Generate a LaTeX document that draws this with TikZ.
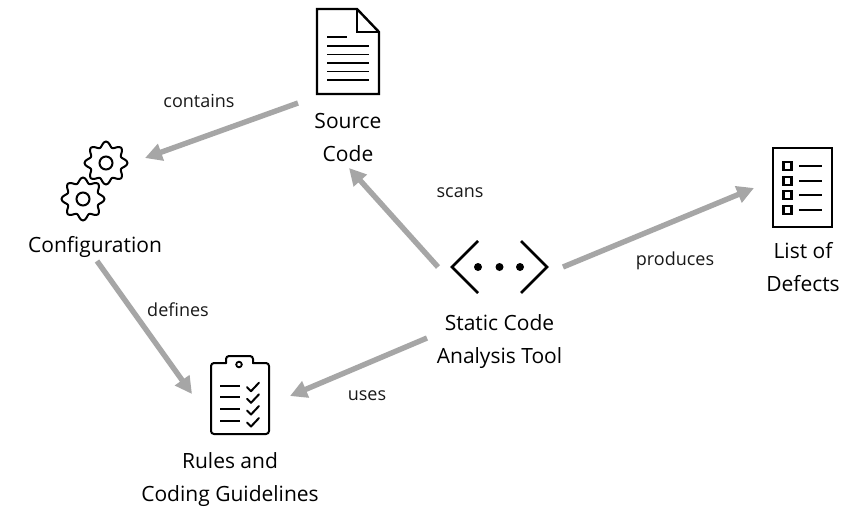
\documentclass[tikz,border=0pt]{standalone}
\usepackage{fontspec}
\setmainfont{Open Sans}
\usetikzlibrary{arrows.meta}
\tikzset{
  flow/.style={draw=arrowgray,line width=5.4pt,-{Triangle[length=17pt,width=17pt]},shorten >=0pt},
  title/.style={font=\fontsize{21}{33}\selectfont,align=center,inner sep=0pt,text=black},
  verb/.style={font=\fontsize{18}{20}\selectfont,inner sep=0pt,text=black!90},
  icon/.style={draw=black,line width=2.4pt,line join=miter},
  thin icon/.style={draw=black,line width=2pt,line cap=round,line join=round},
}
\definecolor{arrowgray}{HTML}{A6A6A6}
\begin{document}
\begin{tikzpicture}[x=1pt,y=-1pt]
\useasboundingbox (0,0) rectangle (866,522);
\fill[white] (0,0) rectangle (866,522);
% document icon
\draw[icon] (317,9) -- (357,9) -- (379,32) -- (379,94) -- (317,94) -- cycle;
\draw[icon] (357,9) -- (357,32) -- (379,32);
\draw[black,line width=1.8pt] (327,37) -- (347,37);
\foreach \ly in {46,54.5,63,71.5,80}
  \draw[black,line width=1.8pt] (327,\ly) -- (369,\ly);
% gears
\foreach \gx/\gy in {106/163,83/199}{
  \draw[thin icon] plot[smooth cycle,domain=0:355,samples=72]
    ({\gx+(18.8+2.7*cos(8*\x))*cos(\x)},{\gy+(18.8+2.7*cos(8*\x))*sin(\x)});
  \draw[black,line width=2pt] (\gx,\gy) circle (6.5);
}
% clipboard
\draw[thin icon,rounded corners=3pt] (226,363) -- (211,363) -- (211,434) -- (269,434) -- (269,363) -- (253,363);
\draw[thin icon,rounded corners=3pt] (226,363) -- (226,356) -- (253,356) -- (253,363);
\draw[black,line width=1.8pt] (239,364.5) circle (2.8);
\foreach \ly in {385.7,397.3,409,421}{
  \draw[black,line width=1.8pt] (220,\ly) -- (240,\ly);
  \draw[thin icon] (247,\ly+1.5) -- (251,\ly+5.5) -- (259,\ly-3);
}
% list icon
\draw[icon] (773,148) rectangle (832,227);
\foreach \ly in {166,181,195,210}{
  \draw[black,line width=2.2pt] (783.5,\ly-4) rectangle (791.5,\ly+4);
  \draw[black,line width=1.6pt] (799,\ly) -- (822,\ly);
}
% code icon
\draw[black,line width=2.6pt] (478,241) -- (452,267) -- (478,293);
\draw[black,line width=2.6pt] (521,241) -- (547,267) -- (521,293);
\foreach \dx in {478,499.5,520} \fill[black] (\dx,267) circle (4);
% titles
\node[title] (source) at (348,137) {Source\\Code};
\node[title] (config) at (95,247) {Configuration};
\node[title] (rules) at (230,480) {Rules and\\Coding Guidelines};
\node[title] (tool) at (499.5,342) {Static Code\\Analysis Tool};
\node[title] (defects) at (803,267) {List of\\Defects};
% verbs
\node[verb] (contains) at (199,101) {contains};
\node[verb] (defines) at (178,310) {defines};
\node[verb] (scans) at (460,193) {scans};
\node[verb] (produces) at (675,261) {produces};
\node[verb] (uses) at (367,396) {uses};
% connector ends
\coordinate (a1) at (298,103); \coordinate (a2) at (145,158);
\coordinate (b1) at (438,267); \coordinate (b2) at (349,168);
\coordinate (c1) at (563,267); \coordinate (c2) at (754,188);
\coordinate (d1) at (97,261);  \coordinate (d2) at (192,394);
\coordinate (e1) at (427,338); \coordinate (e2) at (290,396);
\draw[flow] (a1) -- (a2);
\draw[flow] (b1) -- (b2);
\draw[flow] (c1) -- (c2);
\draw[flow] (d1) -- (d2);
\draw[flow] (e1) -- (e2);
\end{tikzpicture}
\end{document}
